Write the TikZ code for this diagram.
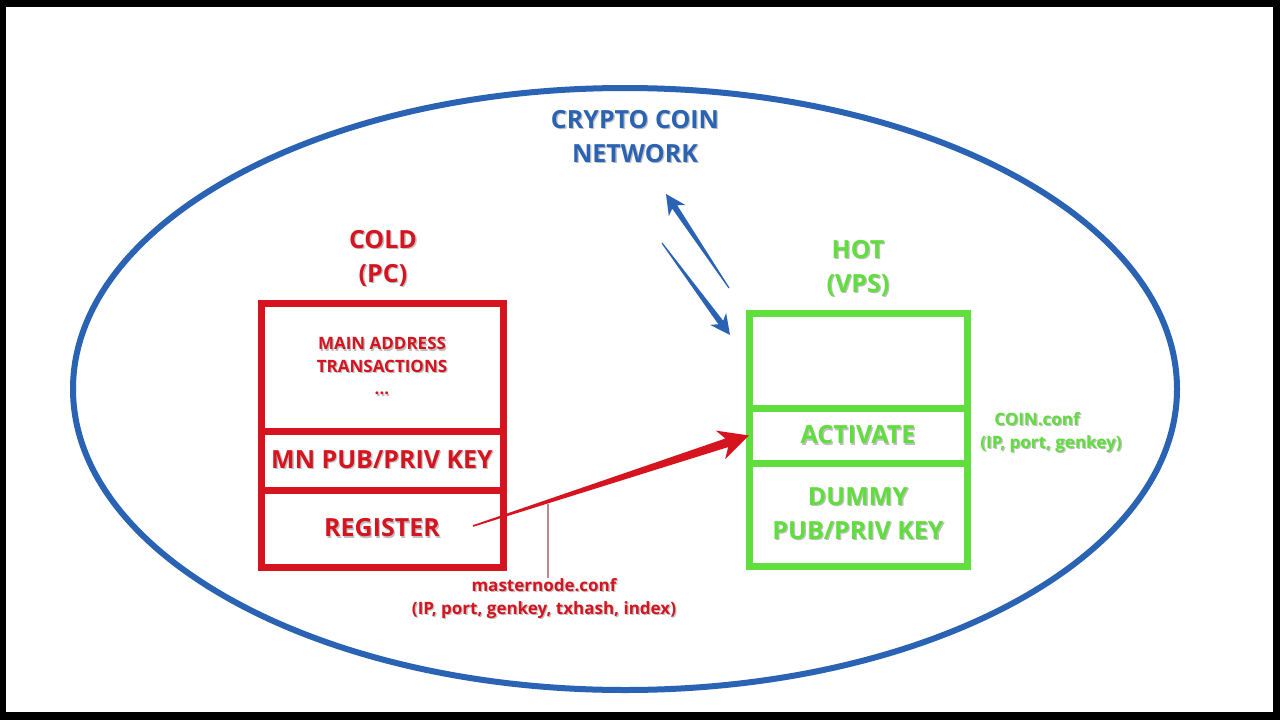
\documentclass[tikz,border=0pt]{standalone}
\usepackage{fontspec}
\setmainfont{Open Sans}
\usetikzlibrary{calc,positioning}
\definecolor{coldred}{RGB}{214,20,32}
\definecolor{hotgreen}{RGB}{96,222,62}
\definecolor{netblue}{RGB}{42,98,180}
\definecolor{leadpink}{RGB}{196,132,142}
% soft grey drop shadow behind a word
\newcommand{\shd}[1]{\rlap{\kern1.3pt\raisebox{-1.3pt}{\textcolor{black!25}{#1}}}#1}
% tapered arrow: tail, tip, colour, tail half width, shaft half width, head length, head half width
\newcommand{\taparrow}[7]{%
  \coordinate (hb) at ($(#2)!#6!(#1)$);
  \coordinate (hn) at ($(#2)!0.78*#6!(#1)$);
  \fill[#3] ($(#1)!#4!90:(#2)$) -- ($(hn)!#5!90:(#2)$) -- ($(hb)!#7!90:(#2)$) -- (#2)
    -- ($(hb)!#7!-90:(#2)$) -- ($(hn)!#5!-90:(#2)$) -- ($(#1)!#4!-90:(#2)$) -- cycle;}

\begin{document}
\begin{tikzpicture}[x=1pt, y=-1pt,
      seg/.style={draw, line width=7pt, inner sep=0pt, outer sep=0pt, align=center},
      big/.style={font=\bfseries\fontsize{25}{34}\selectfont, align=center, inner sep=0pt},
      small/.style={font=\bfseries\fontsize{17}{22.5}\selectfont, align=center, inner sep=0pt}
    ]
    \useasboundingbox (0,0) rectangle (1280,720);
    \fill[black] (0,0) rectangle (1280,720);
    \fill[white] (6,7) rectangle (1273,712);
    \draw[netblue, line width=6pt] (625,389) ellipse [x radius=552pt, y radius=301pt];

    % cold wallet
    \node[seg, coldred, small, minimum width=242pt, minimum height=128pt] (ctop) at (382,367)
          {\shd{MAIN ADDRESS}\\\shd{TRANSACTIONS}\\\shd{...}};
    \node[seg, coldred, big, minimum width=242pt, minimum height=59pt, below=0pt of ctop] (cmid)
          {\shd{MN PUB/PRIV KEY}};
    \node[seg, coldred, big, minimum width=242pt, minimum height=77pt, below=0pt of cmid] (cbot)
          {\shd{REGISTER}};

    % hot wallet
    \node[seg, hotgreen, minimum width=218pt, minimum height=95pt] (gtop) at (858,360.5) {};
    \node[seg, hotgreen, big, minimum width=218pt, minimum height=55pt, below=0pt of gtop] (gmid)
          {\shd{ACTIVATE}};
    \node[seg, hotgreen, big, minimum width=218pt, minimum height=103pt, below=0pt of gmid] (gbot)
          {\shd{DUMMY}\\\shd{PUB/PRIV KEY}};

    \node[big, coldred] (cold) at (383,259) {\shd{COLD}\\\shd{(PC)}};
    \node[big, hotgreen] (hot) at (858,269) {\shd{HOT}\\\shd{(VPS)}};
    \node[big, netblue] (net) at (635,137) {\shd{CRYPTO COIN}\\\shd{NETWORK}};
    \node[small, coldred] (mnconf) at (544,599)
          {\shd{masternode.conf}\\\shd{(IP, port, genkey, txhash, index)}};
    \node[small, hotgreen] (coinconf) at (1044,433)
          {\hspace*{-14pt}\shd{COIN.conf}\\\hspace*{14pt}\shd{(IP, port, genkey)}};

    \coordinate (regtail) at (473,526);
    \coordinate (nettip)  at (666,194);
    \coordinate (nettail) at (729,288);
    \coordinate (vpstail) at (662,243);
    \coordinate (vpstip)  at (730,335);
    \coordinate (lead)    at (548,504);

    \draw[leadpink, line width=1.5pt] (lead) -- (lead |- mnconf.north);
    \taparrow{regtail}{gmid.west}{coldred}{0.8pt}{4.5pt}{30pt}{15pt}
    \taparrow{nettail}{nettip}{netblue}{0.6pt}{3pt}{20pt}{10pt}
    \taparrow{vpstail}{vpstip}{netblue}{0.6pt}{3pt}{20pt}{10pt}
  \end{tikzpicture}
\end{document}
